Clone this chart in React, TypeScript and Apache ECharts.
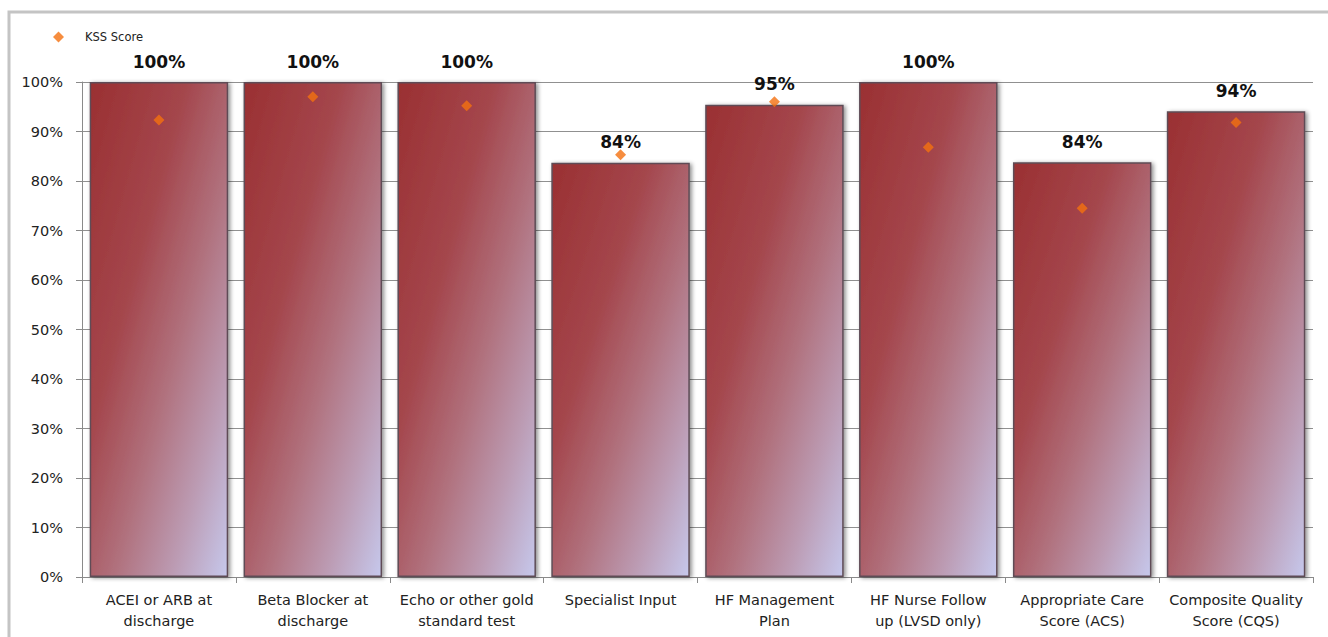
import React, { useEffect, useRef } from "react";
import * as echarts from "echarts";

const categories = [
  "ACEI or ARB at\ndischarge",
  "Beta Blocker at\ndischarge",
  "Echo or other gold\nstandard test",
  "Specialist Input",
  "HF Management\nPlan",
  "HF Nurse Follow\nup (LVSD only)",
  "Appropriate Care\nScore (ACS)",
  "Composite Quality\nScore (CQS)",
];
const hospitalScores = [100, 100, 100, 84, 95, 100, 84, 94];
const barTops = [100, 100, 100, 83.7, 95.4, 100, 83.8, 94.1];
const kssScores = [92.3, 97.0, 95.2, 85.3, 96.0, 86.8, 74.5, 91.8];
const yTicks = [0, 10, 20, 30, 40, 50, 60, 70, 80, 90, 100];

export default function App() {
  const ref = useRef<HTMLDivElement>(null);
  useEffect(() => {
    if (!ref.current) return;
    const chart = echarts.init(ref.current, null, { renderer: "svg" });
    const font = "DejaVu Sans";
    chart.setOption({
      animation: false,
      backgroundColor: "#ffffff",
      textStyle: { fontFamily: font },
      graphic: [
        {
          type: "rect",
          shape: { x: 9, y: 12, width: 1340, height: 660 },
          style: { fill: "none", stroke: "#c4c4c4", lineWidth: 3 },
          silent: true,
          z: -10,
        },
      ],
      legend: {
        data: ["KSS Score"],
        left: 48,
        top: 26,
        icon: "diamond",
        itemWidth: 11,
        itemHeight: 11,
        itemGap: 8,
        textStyle: {
          fontSize: 11.5,
          color: "#222",
          fontFamily: font,
          padding: [0, 0, 0, 16],
        },
      },
      grid: { left: 82, right: 15, top: 82, bottom: 60 },
      xAxis: {
        type: "category",
        data: categories,
        axisLine: { lineStyle: { color: "#8a8a8a", width: 1 } },
        axisTick: { show: true, length: 6, lineStyle: { color: "#8a8a8a" } },
        axisLabel: {
          interval: 0,
          fontSize: 14.5,
          color: "#222",
          margin: 12,
          lineHeight: 21,
          fontFamily: font,
        },
      },
      yAxis: {
        type: "value",
        min: 0,
        max: 100,
        interval: 10,
        axisLine: { show: true, lineStyle: { color: "#8a8a8a", width: 1 } },
        axisTick: { show: true, length: 6, lineStyle: { color: "#8a8a8a" } },
        splitLine: { show: true, lineStyle: { color: "#909090", width: 1 } },
        axisLabel: {
          formatter: (v: number) => (yTicks.includes(v) ? v + "%" : ""),
          fontSize: 14.5,
          color: "#222",
          margin: 19,
          fontFamily: font,
        },
      },
      series: [
        {
          name: "Hospital",
          type: "bar",
          data: barTops,
          barCategoryGap: "10%",
          z: 2,
          itemStyle: {
            color: new echarts.graphic.LinearGradient(0, 0, 1, 1, [
              { offset: 0, color: "#9a3032" },
              { offset: 0.35, color: "#a4464c" },
              { offset: 0.58, color: "#b0707c" },
              { offset: 0.8, color: "#bc9cb4" },
              { offset: 1, color: "#c6c8ec" },
            ]),
            borderColor: "#5e4c56",
            borderWidth: 1.5,
            shadowColor: "rgba(0,0,0,0.45)",
            shadowBlur: 4,
            shadowOffsetX: 2,
            shadowOffsetY: 1,
          },
          label: {
            show: true,
            position: "top",
            distance: 12,
            formatter: (p: any) => hospitalScores[p.dataIndex] + "%",
            fontSize: 17,
            fontWeight: "bold",
            color: "#111",
            fontFamily: font,
          },
        },
        {
          name: "KSS Score",
          type: "scatter",
          data: kssScores,
          symbol: "diamond",
          symbolSize: 11,
          z: 5,
          itemStyle: { color: "#f4700f" },
        },
      ],
    });
    return () => chart.dispose();
  }, []);
  return (
    <div
      ref={ref}
      style={{ position: "fixed", left: 0, top: 0, width: 1328, height: 637 }}
    />
  );
}
